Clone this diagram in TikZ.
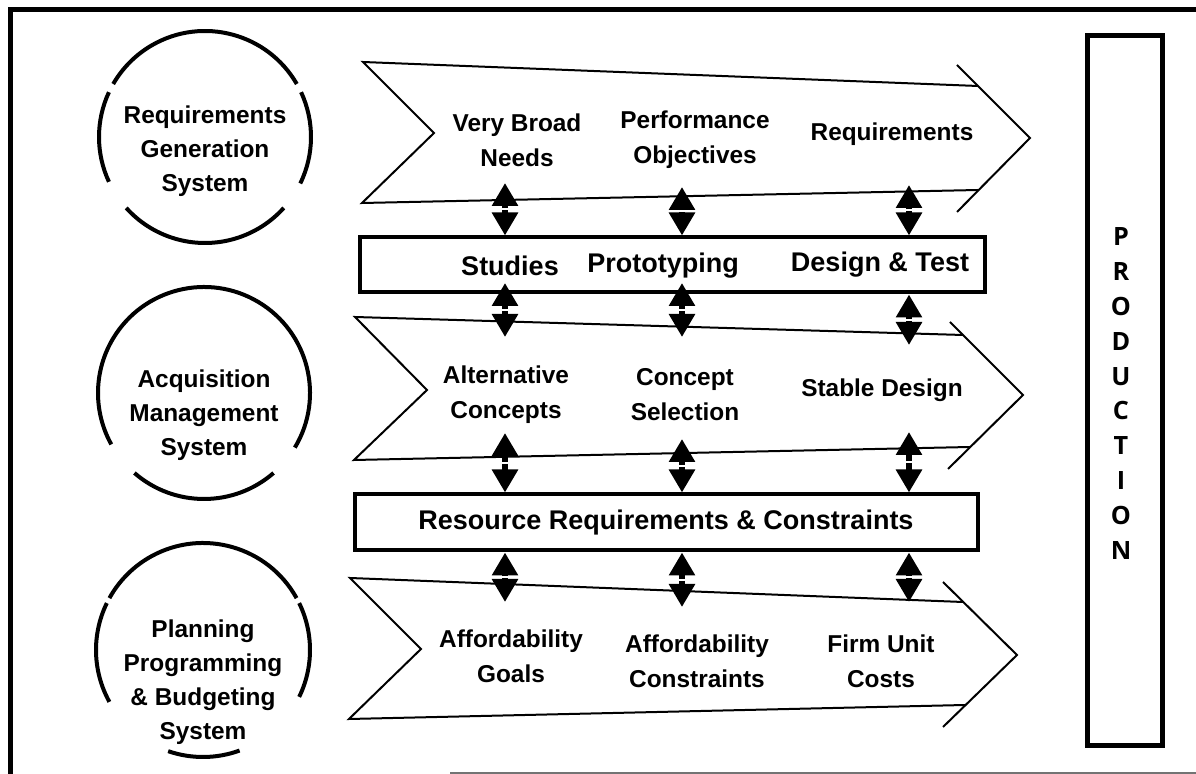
\documentclass[tikz,border=0pt]{standalone}
\usepackage{fontspec}
\setmainfont{Liberation Sans}
\newfontfamily\prodfont{Open Sans}
\usetikzlibrary{arrows.meta}
\usetikzlibrary{positioning}

% double arrow made of two heads meeting in the middle
\newcommand{\twoway}[2]{%
   \path (#1) -- (#2) coordinate[midway] (mid);
   \draw[arrow] (mid) -- (#1);
   \draw[arrow] (mid) -- (#2);}

\begin{document}
\begin{tikzpicture}[x=0.5pt, y=-0.5pt]

   %Styles of texts, boxes and arrows
   \tikzstyle{label} = [font=\bfseries\fontsize{12.2}{17.5}\selectfont, align=center, inner sep=0pt]
   \tikzstyle{system} = [font=\bfseries\fontsize{12.2}{17}\selectfont, align=center, inner sep=0pt]
   \tikzstyle{bartext} = [font=\bfseries\fontsize{13.5}{16}\selectfont, inner sep=0pt]
   \tikzstyle{bar} = [rectangle, draw=black, line width=2pt, inner sep=0pt, font=\bfseries\fontsize{13.5}{16}\selectfont]
   \tikzstyle{prodletter} = [font=\prodfont\bfseries\fontsize{12.6}{14}\selectfont, inner sep=0pt]
   \tikzstyle{ring} = [line width=2pt]
   \tikzstyle{chevron} = [line width=1pt, line join=miter]
   \tikzstyle{arrow} = [line width=3pt, shorten <=0.6pt, -{Triangle[width=12.5pt,length=11.5pt]}]

   \useasboundingbox (0,0) rectangle (1196,774);

   %Frame
   \draw[line width=2.5pt] (10,774) -- (10,10) -- (1196,10);
   \draw[line width=1pt, black!55] (450,773) -- (1196,773);

   %Systems (broken circles)
   \coordinate (reqc) at (205,137);
   \coordinate (acqc) at (204,393);
   \coordinate (ppbc) at (203,650);
   \draw[ring] ([shift={(-30:106)}]reqc) arc (-30:-150:106);
   \draw[ring] ([shift={(-155:106)}]reqc) arc (-155:-205:106);
   \draw[ring] ([shift={(-222:106)}]reqc) arc (-222:-318:106);
   \draw[ring] ([shift={(26:106)}]reqc) arc (26:-25:106);
   \draw[ring] ([shift={(31:106)}]acqc) arc (31:-209:106);
   \draw[ring] ([shift={(-229:106)}]acqc) arc (-229:-311:106);
   \draw[ring] ([shift={(-29:107)}]ppbc) arc (-29:-151:107);
   \draw[ring] ([shift={(-154:107)}]ppbc) arc (-154:-209:107);
   \draw[ring] ([shift={(26:107)}]ppbc) arc (26:-26:107);
   \draw[ring] ([shift={(-251:107)}]ppbc) arc (-251:-290:107);
   \node[system] (reqsys) at (205,151) {Requirements\\Generation\\System};
   \node[system] (acqsys) at (204,415) {Acquisition\\Management\\System};
   \node[system] (ppbs) at (203,682) {Planning\\Programming\\\& Budgeting\\System};

   %Chevrons
   \draw[chevron] (978,86) -- (363,62) -- (434,133) -- (362,203) -- (978,190);
   \draw[chevron] (957,65) -- (1030,138) -- (957,212);
   \draw[chevron] (963,335) -- (355,317) -- (427,390) -- (354,460) -- (970,447);
   \draw[chevron] (950,322) -- (1023,395) -- (948,469);
   \draw[chevron] (963,602) -- (350,578) -- (421,649) -- (349,719) -- (965,705);
   \draw[chevron] (943,582) -- (1017,655) -- (943,727);

   %Chevron labels
   \node[label] (needs) at (517,140) {Very Broad\\Needs};
   \node[label] (objectives) at (695,140) {Performance\\Objectives};
   \node[label] (reqs) at (892,134) {Requirements};
   \node[label] (altconc) at (506,395) {Alternative\\Concepts};
   \node[label] (selection) at (685,395) {Concept\\Selection};
   \node[label] (stable) at (882,390) {Stable Design};
   \node[label] (goals) at (511,656) {Affordability\\Goals};
   \node[label] (affconstr) at (697,661) {Affordability\\Constraints};
   \node[label] (unitcost) at (881,661) {Firm Unit\\Costs};

   %Boxes
   \node[bar, minimum width=312.5pt, minimum height=27.5pt] (devbox) at (672,265) {};
   \node[bartext] (studies) at (510,266) {Studies};
   \node[bartext] (proto) at (663,266) {Prototyping};
   \node[bartext] (destest) at (880,265) {Design \& Test};
   \node[bar, minimum width=311.5pt, minimum height=28pt] (resbox) at (666,522.5) {Resource Requirements \& Constraints};
   \node[rectangle, draw=black, line width=2.5pt, minimum width=37.5pt, minimum height=355pt] (prodbox) at (1125,390.5) {};
   \foreach \ch [count=\i from 0] in {P,R,O,D,U,C,T,I,O,N}
      \node[prodletter] (prod\i) at (1121,237+34.8*\i) {\ch};

   %Arrows
   \coordinate (a1) at (505,183);
   \coordinate (a2) at (682,187);
   \coordinate (a3) at (909,185);
   \coordinate (bt1) at (505,283);
   \coordinate (bt2) at (682,283);
   \coordinate (b1) at (505,337);
   \coordinate (b2) at (682,337);
   \coordinate (b3) at (909,345);
   \coordinate (c1) at (505,433);
   \coordinate (c2) at (682,439);
   \coordinate (c3) at (909,432);
   \coordinate (d1) at (505,602);
   \coordinate (d2) at (682,607);
   \coordinate (d3) at (909,602);
   \twoway{a1}{devbox.north -| a1}
   \twoway{a2}{devbox.north -| a2}
   \twoway{a3}{devbox.north -| a3}
   \twoway{bt1}{b1}
   \twoway{bt2}{b2}
   \twoway{devbox.south -| b3}{b3}
   \twoway{c1}{resbox.north -| c1}
   \twoway{c2}{resbox.north -| c2}
   \twoway{c3}{resbox.north -| c3}
   \twoway{resbox.south -| d1}{d1}
   \twoway{resbox.south -| d2}{d2}
   \twoway{resbox.south -| d3}{d3}

\end{tikzpicture}
\end{document}
